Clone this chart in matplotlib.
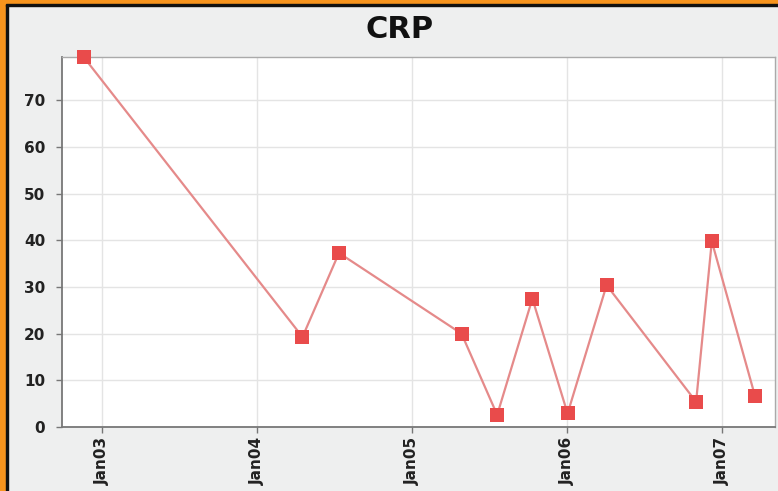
"""CRP time series, single panel."""

import matplotlib
matplotlib.use("Agg")
import matplotlib.pyplot as plt
import matplotlib.dates as mdates
from matplotlib.patches import Rectangle
import pandas as pd

# ─── data ────────────────────────────────────────────────────────────────────
DATES = ["2002-11-18", "2004-04-17", "2004-07-12", "2005-04-27", "2005-07-20",
         "2005-10-11", "2006-01-02", "2006-04-04", "2006-11-01", "2006-12-08",
         "2007-03-20"]
CRP = [79.3, 19.3, 37.3, 20.0, 2.6, 27.5, 2.9, 30.4, 5.4, 39.8, 6.6]
TICK_DATES = ["2003-01-01", "2004-01-01", "2005-01-01", "2006-01-01", "2007-01-01"]
Y_TICKS = [0, 10, 20, 30, 40, 50, 60, 70]

BG = "#eeefef"
ORANGE = "#f7941d"
LINE_COL = "#e58a8a"
MARK_COL = "#e94b4b"

W, H = 778, 491


def main() -> None:
    fig = plt.figure(figsize=(W / 100, H / 100), dpi=100, facecolor=BG)

    # orange frame with thin dark inner line
    fig.patches.append(Rectangle((0, 0), 6 / W, 1, transform=fig.transFigure,
                                 color=ORANGE, zorder=0))
    fig.patches.append(Rectangle((6 / W, 0), 2 / W, 1 - 4 / H, transform=fig.transFigure,
                                 color="#111111", zorder=0))
    fig.patches.append(Rectangle((0, 1 - 4 / H), 1, 4 / H, transform=fig.transFigure,
                                 color=ORANGE, zorder=0))
    fig.patches.append(Rectangle((6 / W, 1 - 6 / H), 1, 2 / H, transform=fig.transFigure,
                                 color="#111111", zorder=0))

    ax = fig.add_axes([62 / W, 1 - 427 / H, (775 - 62) / W, (427 - 57) / H])
    ax.set_facecolor("white")

    x = pd.to_datetime(DATES)
    ax.plot(x, CRP, color=LINE_COL, lw=1.6, zorder=3)
    ax.plot(x, CRP, ls="none", marker="s", ms=9.5, color=MARK_COL,
            markeredgewidth=0, zorder=4, clip_on=False)

    ax.set_xlim(pd.Timestamp("2002-09-28"), pd.Timestamp("2007-05-06"))
    ax.set_ylim(0, 79.3)
    ax.set_xticks(pd.to_datetime(TICK_DATES))
    ax.xaxis.set_major_formatter(mdates.DateFormatter("%b%y"))
    ax.set_yticks(Y_TICKS)

    ax.grid(True, color="#e4e4e4", lw=1, zorder=0)
    ax.set_axisbelow(True)
    for side in ("left", "bottom"):
        ax.spines[side].set_color("#777777")
        ax.spines[side].set_linewidth(1.3)
    for side in ("top", "right"):
        ax.spines[side].set_color("#aaaaaa")
        ax.spines[side].set_linewidth(1.0)

    ax.tick_params(axis="both", length=4, width=1, color="#777777",
                   labelsize=11, labelcolor="#222222")
    ax.tick_params(axis="y", pad=8)
    ax.tick_params(axis="x", pad=3)
    for lab in ax.get_xticklabels():
        lab.set_rotation(90)
        lab.set_va("top")
        lab.set_fontweight("bold")
    for lab in ax.get_yticklabels():
        lab.set_fontweight("bold")

    fig.text(400 / W, 1 - 29 / H, "CRP", ha="center", va="center",
             fontsize=22, fontweight="bold", color="#111111")

    fig.savefig("out.png", dpi=100, facecolor=BG)


if __name__ == "__main__":
    main()
